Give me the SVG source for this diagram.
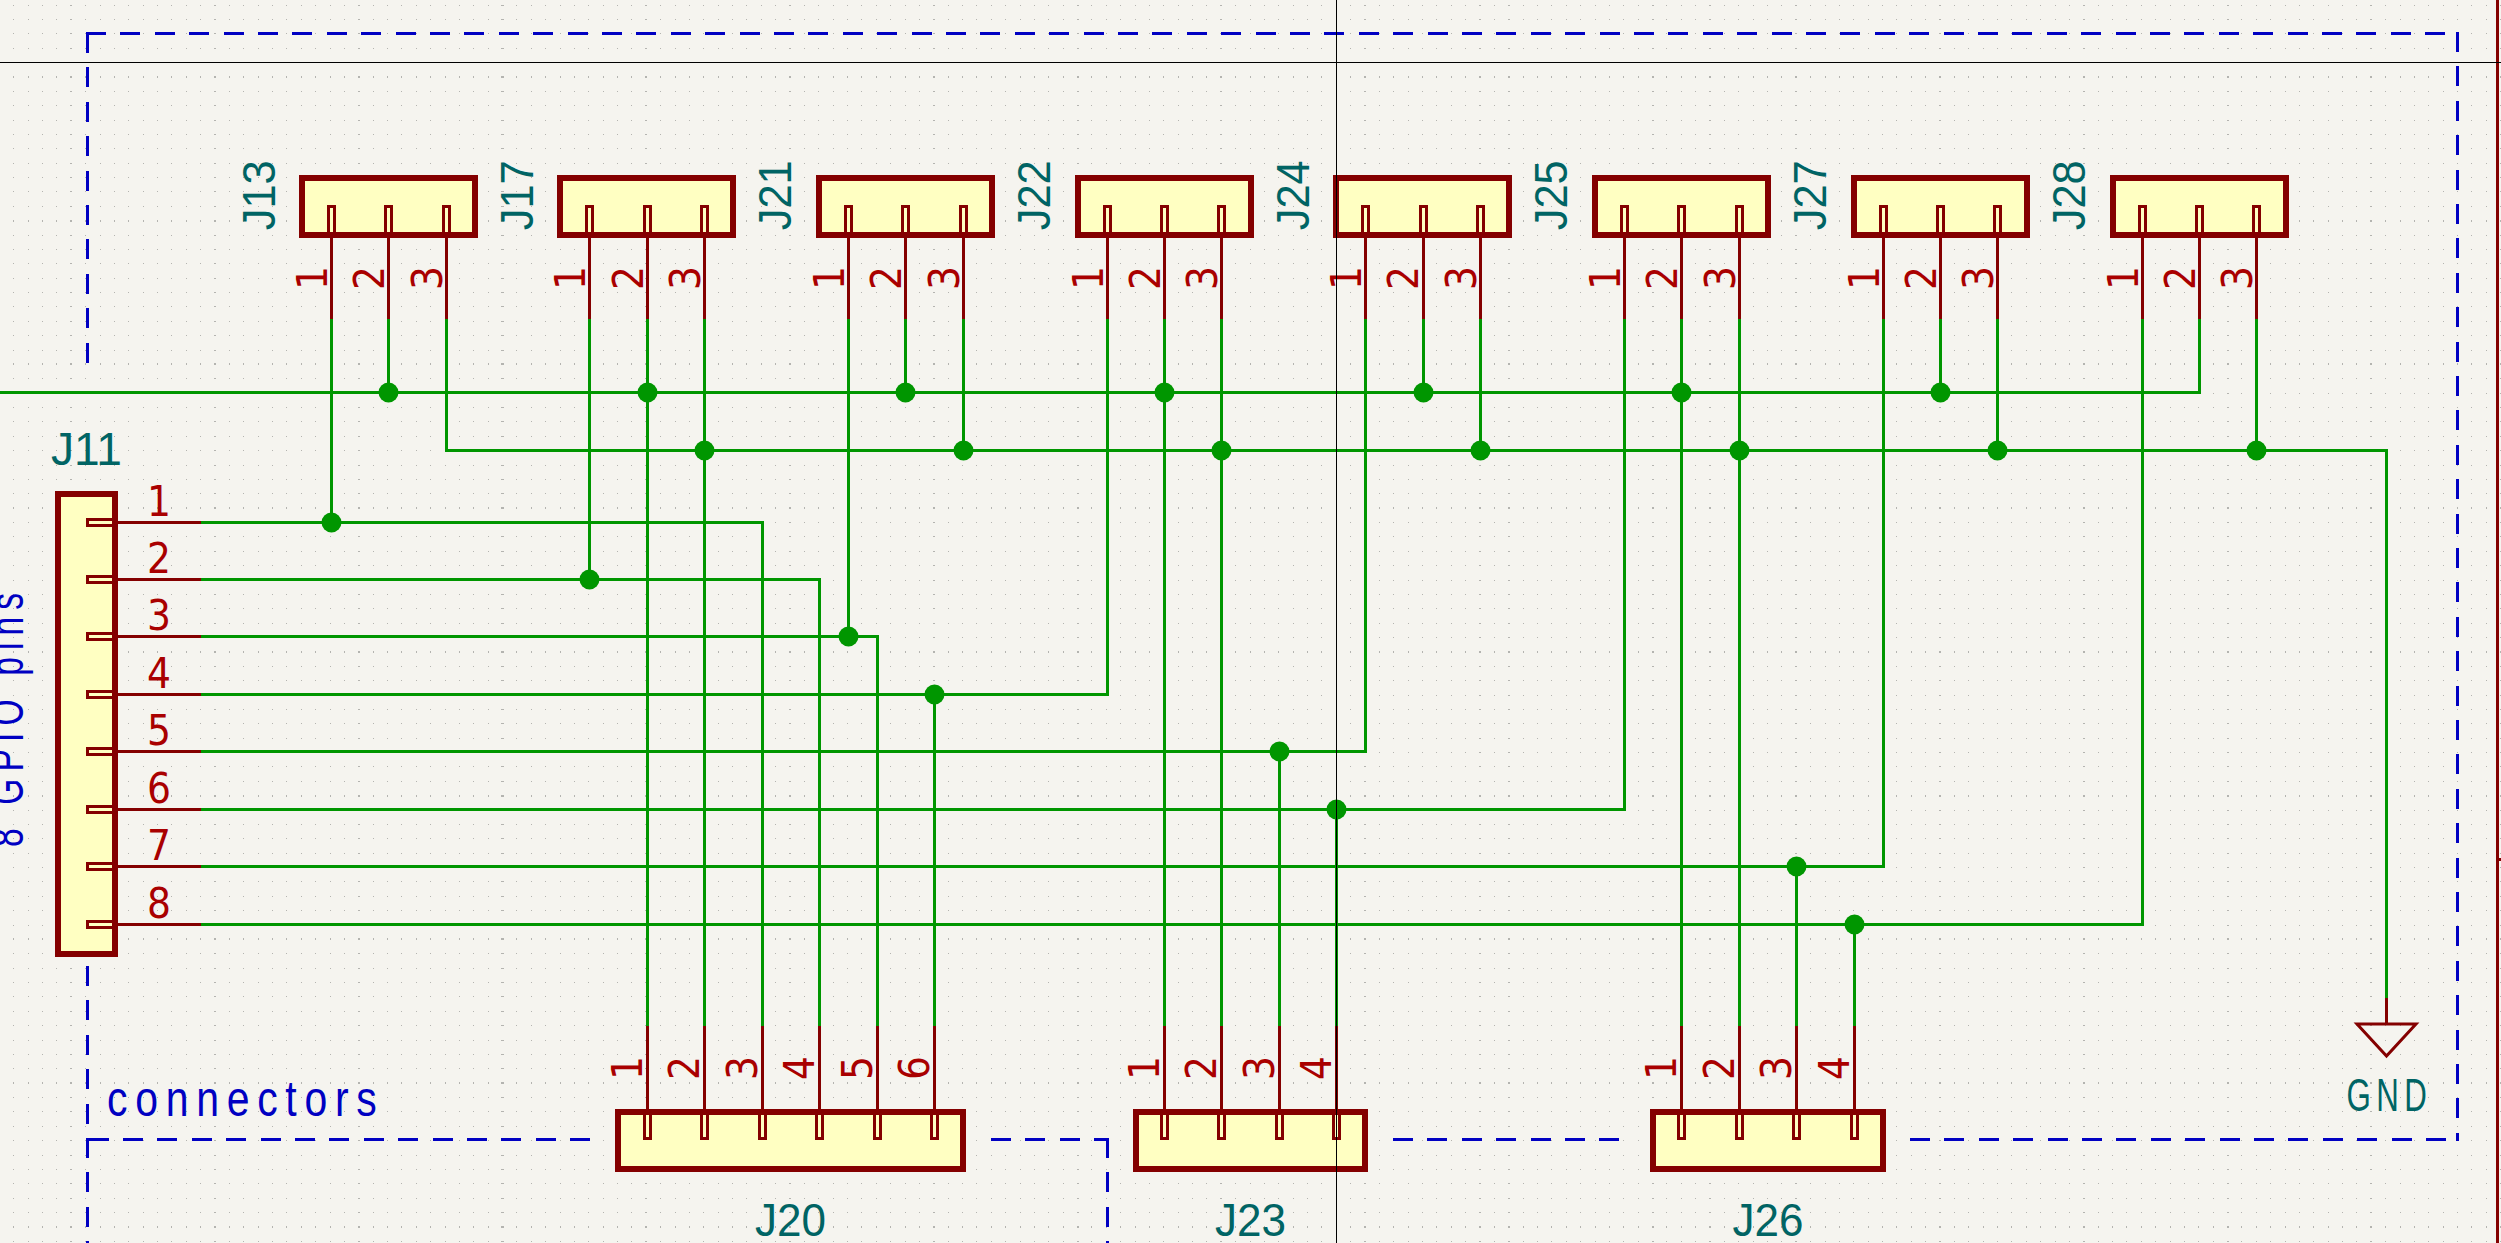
<svg xmlns="http://www.w3.org/2000/svg" xmlns:xlink="http://www.w3.org/1999/xlink" width="2501" height="1243" viewBox="0 0 2501 1243">
<style>
.bg{fill:#f5f4ef}
.grid{fill:none;stroke:#b4b4b0;shape-rendering:crispEdges}
.g1{stroke-width:1;stroke-dasharray:1 13.375}
.g2{stroke-width:2;stroke-dasharray:1 13.375}
.g3{stroke-width:1;stroke-dasharray:2 141.75;stroke-dashoffset:72.375}
.g4{stroke-width:2;stroke-dasharray:2 141.75;stroke-dashoffset:72.375}
.wire{fill:none;stroke:#009600;stroke-width:3;shape-rendering:crispEdges}
.dot{fill:#009600}
.box{fill:#ffffc2;stroke:#840000;stroke-width:6;stroke-linejoin:miter;shape-rendering:crispEdges}
.pin{fill:none;stroke:#840000;stroke-width:3;shape-rendering:crispEdges}
.pinbox{fill:none;stroke:#840000;stroke-width:2.6;shape-rendering:crispEdges}
.sym{fill:none;stroke:#840000;stroke-width:3;stroke-linejoin:miter}
.dash{fill:none;stroke:#0000c2;stroke-width:3;stroke-dasharray:20 14.4;shape-rendering:crispEdges}
.cross{fill:none;stroke:#000;stroke-width:1;shape-rendering:crispEdges}
text{font-family:"Liberation Sans",Arial,sans-serif;font-size:46px;text-anchor:middle}
.num{fill:#a90000;font-family:"DejaVu Sans","Liberation Sans",sans-serif;font-size:42px}
.ref{fill:#006464}
.note{fill:#0000c2;text-anchor:start}
</style>
<defs>
<path id="r" d="M-1.125 5H2501M-1.125 19.375H2501M-1.125 33.75H2501M-1.125 48.125H2501M-1.125 62.5H2501M-1.125 91.25H2501M-1.125 105.625H2501M-1.125 120H2501M-1.125 134.375H2501M-1.125 148.75H2501M-1.125 163.125H2501M-1.125 177.5H2501M-1.125 191.875H2501M-1.125 206.25H2501M-1.125 235H2501M-1.125 249.375H2501M-1.125 263.75H2501M-1.125 278.125H2501M-1.125 292.5H2501M-1.125 306.875H2501M-1.125 321.25H2501M-1.125 335.625H2501M-1.125 350H2501M-1.125 378.75H2501M-1.125 393.125H2501M-1.125 407.5H2501M-1.125 421.875H2501M-1.125 436.25H2501M-1.125 450.625H2501M-1.125 465H2501M-1.125 479.375H2501M-1.125 493.75H2501M-1.125 522.5H2501M-1.125 536.875H2501M-1.125 551.25H2501M-1.125 565.625H2501M-1.125 580H2501M-1.125 594.375H2501M-1.125 608.75H2501M-1.125 623.125H2501M-1.125 637.5H2501M-1.125 666.25H2501M-1.125 680.625H2501M-1.125 695H2501M-1.125 709.375H2501M-1.125 723.75H2501M-1.125 738.125H2501M-1.125 752.5H2501M-1.125 766.875H2501M-1.125 781.25H2501M-1.125 810H2501M-1.125 824.375H2501M-1.125 838.75H2501M-1.125 853.125H2501M-1.125 867.5H2501M-1.125 881.875H2501M-1.125 896.25H2501M-1.125 910.625H2501M-1.125 925H2501M-1.125 953.75H2501M-1.125 968.125H2501M-1.125 982.5H2501M-1.125 996.875H2501M-1.125 1011.25H2501M-1.125 1025.625H2501M-1.125 1040H2501M-1.125 1054.375H2501M-1.125 1068.75H2501M-1.125 1097.5H2501M-1.125 1111.875H2501M-1.125 1126.25H2501M-1.125 1140.625H2501M-1.125 1155H2501M-1.125 1169.375H2501M-1.125 1183.75H2501M-1.125 1198.125H2501M-1.125 1212.5H2501M-1.125 1241.25H2501"/>
<path id="m" d="M-1.125 76.875H2501M-1.125 220.625H2501M-1.125 364.375H2501M-1.125 508.125H2501M-1.125 651.875H2501M-1.125 795.625H2501M-1.125 939.375H2501M-1.125 1083.125H2501M-1.125 1226.875H2501"/>
</defs>
<rect class="bg" width="2501" height="1243"/>
<g id="grid">
<use href="#r" class="grid g1"/>
<use href="#m" class="grid g2"/>
<use href="#r" class="grid g3"/>
<use href="#m" class="grid g4"/>
</g>
<g id="page-border">
<path d="M2497.5 0V1243" fill="none" stroke="#840000" stroke-width="3" shape-rendering="crispEdges"/>
<path d="M2499 859H2501" fill="none" stroke="#840000" stroke-width="3" shape-rendering="crispEdges"/>
</g>
<g id="dashed-frame">
<path class="dash" d="M86 33.5H2457.5"/>
<path class="dash" d="M2457.5 32V1141"/>
<path class="dash" d="M87.5 33V366"/>
<path class="dash" d="M87.5 966V1139"/>
<path class="dash" d="M88.6 1139.5H594"/>
<path class="dash" d="M87.5 1138V1243"/>
<path class="dash" d="M991 1139.5H1109"/>
<path class="dash" d="M1107.5 1138V1243"/>
<path class="dash" d="M1393 1139.5H1620"/>
<path class="dash" d="M1910 1139.5H2449"/>
<text class="note" transform="translate(107 1115.5) scale(.82 1)" style="font-size:50px" textLength="329">connectors</text>
<text class="note" transform="translate(22.5 847) rotate(-90) scale(.7 1)" style="font-size:48px" textLength="363">8 GPIO pins</text>
</g>
<g id="connectors">
<path class="wire" d="M0 392.5H2199.5V319"/>
<path class="wire" d="M446.5 319V450.5H2386.5V998"/>
<path class="wire" d="M201 522.5H762.5V1026"/>
<path class="wire" d="M201 579.5H819.5V1026"/>
<path class="wire" d="M201 636.5H877.5V1026"/>
<path class="wire" d="M201 694.5H1107.5V319"/>
<path class="wire" d="M201 751.5H1365.5V319"/>
<path class="wire" d="M201 809.5H1624.5V319"/>
<path class="wire" d="M201 866.5H1883.5V319"/>
<path class="wire" d="M201 924.5H2142.5V319"/>
<path class="wire" d="M331.5 319V522.5M388.5 319V392.5M589.5 319V579.5M647.5 319V1026M704.5 319V1026M848.5 319V636.5M905.5 319V392.5M963.5 319V450.5M934.5 694.5V1026M1164.5 319V1026M1221.5 319V1026M1423.5 319V392.5M1480.5 319V450.5M1279.5 751.5V1026M1336.5 809.5V1026M1681.5 319V1026M1739.5 319V1026M1940.5 319V392.5M1997.5 319V450.5M1796.5 866.5V1026M1854.5 924.5V1026M2256.5 319V450.5"/>
<g class="dot">
<circle cx="388.5" cy="392.5" r="10"/><circle cx="647.5" cy="392.5" r="10"/><circle cx="905.5" cy="392.5" r="10"/><circle cx="1164.5" cy="392.5" r="10"/><circle cx="1423.5" cy="392.5" r="10"/><circle cx="1681.5" cy="392.5" r="10"/><circle cx="1940.5" cy="392.5" r="10"/>
<circle cx="704.5" cy="450.5" r="10"/><circle cx="963.5" cy="450.5" r="10"/><circle cx="1221.5" cy="450.5" r="10"/><circle cx="1480.5" cy="450.5" r="10"/><circle cx="1739.5" cy="450.5" r="10"/><circle cx="1997.5" cy="450.5" r="10"/><circle cx="2256.5" cy="450.5" r="10"/>
<circle cx="331.5" cy="522.5" r="10"/><circle cx="589.5" cy="579.5" r="10"/><circle cx="848.5" cy="636.5" r="10"/><circle cx="934.5" cy="694.5" r="10"/><circle cx="1279.5" cy="751.5" r="10"/><circle cx="1336.5" cy="809.5" r="10"/><circle cx="1796.5" cy="866.5" r="10"/><circle cx="1854.5" cy="924.5" r="10"/>
</g>
</g>
<g id="J11">
<rect class="box" x="58.2" y="493.8" width="57" height="459.7"/>
<path class="pin" d="M118 522.5H201M118 579.5H201M118 636.5H201M118 694.5H201M118 751.5H201M118 809.5H201M118 866.5H201M118 924.5H201"/>
<path class="pinbox" d="M115 519.5H87.3V525.5H115M115 576.5H87.3V582.5H115M115 633.5H87.3V639.5H115M115 691.5H87.3V697.5H115M115 748.5H87.3V754.5H115M115 806.5H87.3V812.5H115M115 863.5H87.3V869.5H115M115 921.5H87.3V927.5H115"/>
<text class="ref" x="86.5" y="465.4" textLength="71" lengthAdjust="spacingAndGlyphs">J11</text>
<text class="num" x="159" y="516" textLength="24" lengthAdjust="spacingAndGlyphs">1</text>
<text class="num" x="159" y="573" textLength="24" lengthAdjust="spacingAndGlyphs">2</text>
<text class="num" x="159" y="630" textLength="24" lengthAdjust="spacingAndGlyphs">3</text>
<text class="num" x="159" y="688" textLength="24" lengthAdjust="spacingAndGlyphs">4</text>
<text class="num" x="159" y="745" textLength="24" lengthAdjust="spacingAndGlyphs">5</text>
<text class="num" x="159" y="803" textLength="24" lengthAdjust="spacingAndGlyphs">6</text>
<text class="num" x="159" y="860" textLength="24" lengthAdjust="spacingAndGlyphs">7</text>
<text class="num" x="159" y="918" textLength="24" lengthAdjust="spacingAndGlyphs">8</text>
</g>
<g id="J13">
<rect class="box" x="302.2" y="178" width="172.6" height="57"/>
<path class="pin" d="M331.5 235V319M388.5 235V319M446.5 235V319"/>
<path class="pinbox" d="M328.5 233V206.5H334.5V233M385.5 233V206.5H391.5V233M443.5 233V206.5H449.5V233"/>
<text class="ref" transform="translate(274.5 195.3) rotate(-90)" textLength="70" lengthAdjust="spacingAndGlyphs">J13</text>
<text class="num" transform="translate(326.5 278) rotate(-90)" textLength="24" lengthAdjust="spacingAndGlyphs">1</text>
<text class="num" transform="translate(383.5 278) rotate(-90)" textLength="24" lengthAdjust="spacingAndGlyphs">2</text>
<text class="num" transform="translate(441.5 278) rotate(-90)" textLength="24" lengthAdjust="spacingAndGlyphs">3</text>
</g>
<g id="J17">
<rect class="box" x="560.2" y="178" width="172.6" height="57"/>
<path class="pin" d="M589.5 235V319M647.5 235V319M704.5 235V319"/>
<path class="pinbox" d="M586.5 233V206.5H592.5V233M644.5 233V206.5H650.5V233M701.5 233V206.5H707.5V233"/>
<text class="ref" transform="translate(533 195.3) rotate(-90)" textLength="70" lengthAdjust="spacingAndGlyphs">J17</text>
<text class="num" transform="translate(584.5 278) rotate(-90)" textLength="24" lengthAdjust="spacingAndGlyphs">1</text>
<text class="num" transform="translate(642.5 278) rotate(-90)" textLength="24" lengthAdjust="spacingAndGlyphs">2</text>
<text class="num" transform="translate(699.5 278) rotate(-90)" textLength="24" lengthAdjust="spacingAndGlyphs">3</text>
</g>
<g id="J21">
<rect class="box" x="819.2" y="178" width="172.6" height="57"/>
<path class="pin" d="M848.5 235V319M905.5 235V319M963.5 235V319"/>
<path class="pinbox" d="M845.5 233V206.5H851.5V233M902.5 233V206.5H908.5V233M960.5 233V206.5H966.5V233"/>
<text class="ref" transform="translate(791 195.3) rotate(-90)" textLength="70" lengthAdjust="spacingAndGlyphs">J21</text>
<text class="num" transform="translate(843.5 278) rotate(-90)" textLength="24" lengthAdjust="spacingAndGlyphs">1</text>
<text class="num" transform="translate(900.5 278) rotate(-90)" textLength="24" lengthAdjust="spacingAndGlyphs">2</text>
<text class="num" transform="translate(958.5 278) rotate(-90)" textLength="24" lengthAdjust="spacingAndGlyphs">3</text>
</g>
<g id="J22">
<rect class="box" x="1078" y="178" width="172.6" height="57"/>
<path class="pin" d="M1107.5 235V319M1164.5 235V319M1221.5 235V319"/>
<path class="pinbox" d="M1104.5 233V206.5H1110.5V233M1161.5 233V206.5H1167.5V233M1218.5 233V206.5H1224.5V233"/>
<text class="ref" transform="translate(1050 195.3) rotate(-90)" textLength="70" lengthAdjust="spacingAndGlyphs">J22</text>
<text class="num" transform="translate(1102.5 278) rotate(-90)" textLength="24" lengthAdjust="spacingAndGlyphs">1</text>
<text class="num" transform="translate(1159.5 278) rotate(-90)" textLength="24" lengthAdjust="spacingAndGlyphs">2</text>
<text class="num" transform="translate(1216.5 278) rotate(-90)" textLength="24" lengthAdjust="spacingAndGlyphs">3</text>
</g>
<g id="J24">
<rect class="box" x="1336.2" y="178" width="172.6" height="57"/>
<path class="pin" d="M1365.5 235V319M1423.5 235V319M1480.5 235V319"/>
<path class="pinbox" d="M1362.5 233V206.5H1368.5V233M1420.5 233V206.5H1426.5V233M1477.5 233V206.5H1483.5V233"/>
<text class="ref" transform="translate(1308.5 195.3) rotate(-90)" textLength="70" lengthAdjust="spacingAndGlyphs">J24</text>
<text class="num" transform="translate(1360.5 278) rotate(-90)" textLength="24" lengthAdjust="spacingAndGlyphs">1</text>
<text class="num" transform="translate(1418 278) rotate(-90)" textLength="24" lengthAdjust="spacingAndGlyphs">2</text>
<text class="num" transform="translate(1475.5 278) rotate(-90)" textLength="24" lengthAdjust="spacingAndGlyphs">3</text>
</g>
<g id="J25">
<rect class="box" x="1595.2" y="178" width="172.6" height="57"/>
<path class="pin" d="M1624.5 235V319M1681.5 235V319M1739.5 235V319"/>
<path class="pinbox" d="M1621.5 233V206.5H1627.5V233M1678.5 233V206.5H1684.5V233M1736.5 233V206.5H1742.5V233"/>
<text class="ref" transform="translate(1567 195.3) rotate(-90)" textLength="70" lengthAdjust="spacingAndGlyphs">J25</text>
<text class="num" transform="translate(1619.5 278) rotate(-90)" textLength="24" lengthAdjust="spacingAndGlyphs">1</text>
<text class="num" transform="translate(1676.5 278) rotate(-90)" textLength="24" lengthAdjust="spacingAndGlyphs">2</text>
<text class="num" transform="translate(1734.5 278) rotate(-90)" textLength="24" lengthAdjust="spacingAndGlyphs">3</text>
</g>
<g id="J27">
<rect class="box" x="1854" y="178" width="172.6" height="57"/>
<path class="pin" d="M1883.5 235V319M1940.5 235V319M1997.5 235V319"/>
<path class="pinbox" d="M1880.5 233V206.5H1886.5V233M1937.5 233V206.5H1943.5V233M1994.5 233V206.5H2000.5V233"/>
<text class="ref" transform="translate(1825.5 195.3) rotate(-90)" textLength="70" lengthAdjust="spacingAndGlyphs">J27</text>
<text class="num" transform="translate(1878.5 278) rotate(-90)" textLength="24" lengthAdjust="spacingAndGlyphs">1</text>
<text class="num" transform="translate(1935.5 278) rotate(-90)" textLength="24" lengthAdjust="spacingAndGlyphs">2</text>
<text class="num" transform="translate(1992.5 278) rotate(-90)" textLength="24" lengthAdjust="spacingAndGlyphs">3</text>
</g>
<g id="J28">
<rect class="box" x="2113" y="178" width="172.6" height="57"/>
<path class="pin" d="M2142.5 235V319M2199.5 235V319M2256.5 235V319"/>
<path class="pinbox" d="M2139.5 233V206.5H2145.5V233M2196.5 233V206.5H2202.5V233M2253.5 233V206.5H2259.5V233"/>
<text class="ref" transform="translate(2085 195.3) rotate(-90)" textLength="70" lengthAdjust="spacingAndGlyphs">J28</text>
<text class="num" transform="translate(2137.5 278) rotate(-90)" textLength="24" lengthAdjust="spacingAndGlyphs">1</text>
<text class="num" transform="translate(2194.5 278) rotate(-90)" textLength="24" lengthAdjust="spacingAndGlyphs">2</text>
<text class="num" transform="translate(2251.5 278) rotate(-90)" textLength="24" lengthAdjust="spacingAndGlyphs">3</text>
</g>
<g id="J20">
<rect class="box" x="618.3" y="1112.4" width="344.4" height="56.4"/>
<path class="pin" d="M647.5 1026V1112M704.5 1026V1112M762.5 1026V1112M819.5 1026V1112M877.5 1026V1112M934.5 1026V1112"/>
<path class="pinbox" d="M644.5 1114V1138.7H650.5V1114M701.5 1114V1138.7H707.5V1114M759.5 1114V1138.7H765.5V1114M816.5 1114V1138.7H822.5V1114M874.5 1114V1138.7H880.5V1114M931.5 1114V1138.7H937.5V1114"/>
<text class="ref" x="790.5" y="1236" textLength="71" lengthAdjust="spacingAndGlyphs">J20</text>
<text class="num" transform="translate(641.5 1068) rotate(-90)" textLength="24" lengthAdjust="spacingAndGlyphs">1</text>
<text class="num" transform="translate(698.5 1068) rotate(-90)" textLength="24" lengthAdjust="spacingAndGlyphs">2</text>
<text class="num" transform="translate(756.5 1068) rotate(-90)" textLength="24" lengthAdjust="spacingAndGlyphs">3</text>
<text class="num" transform="translate(813.5 1068) rotate(-90)" textLength="24" lengthAdjust="spacingAndGlyphs">4</text>
<text class="num" transform="translate(871.5 1068) rotate(-90)" textLength="24" lengthAdjust="spacingAndGlyphs">5</text>
<text class="num" transform="translate(928.5 1068) rotate(-90)" textLength="24" lengthAdjust="spacingAndGlyphs">6</text>
</g>
<g id="J23">
<rect class="box" x="1135.5" y="1112.4" width="229.6" height="56.4"/>
<path class="pin" d="M1164.5 1026V1112M1221.5 1026V1112M1279.5 1026V1112M1336.5 1026V1112"/>
<path class="pinbox" d="M1161.5 1114V1138.7H1167.5V1114M1218.5 1114V1138.7H1224.5V1114M1276.5 1114V1138.7H1282.5V1114M1333.5 1114V1138.7H1339.5V1114"/>
<text class="ref" x="1250.5" y="1236" textLength="71" lengthAdjust="spacingAndGlyphs">J23</text>
<text class="num" transform="translate(1159 1068) rotate(-90)" textLength="24" lengthAdjust="spacingAndGlyphs">1</text>
<text class="num" transform="translate(1216 1068) rotate(-90)" textLength="24" lengthAdjust="spacingAndGlyphs">2</text>
<text class="num" transform="translate(1274 1068) rotate(-90)" textLength="24" lengthAdjust="spacingAndGlyphs">3</text>
<text class="num" transform="translate(1331 1068) rotate(-90)" textLength="24" lengthAdjust="spacingAndGlyphs">4</text>
</g>
<g id="J26">
<rect class="box" x="1653" y="1112.4" width="229.6" height="56.4"/>
<path class="pin" d="M1681.5 1026V1112M1739.5 1026V1112M1796.5 1026V1112M1854.5 1026V1112"/>
<path class="pinbox" d="M1678.5 1114V1138.7H1684.5V1114M1736.5 1114V1138.7H1742.5V1114M1793.5 1114V1138.7H1799.5V1114M1851.5 1114V1138.7H1857.5V1114"/>
<text class="ref" x="1768" y="1236" textLength="71" lengthAdjust="spacingAndGlyphs">J26</text>
<text class="num" transform="translate(1676 1068) rotate(-90)" textLength="24" lengthAdjust="spacingAndGlyphs">1</text>
<text class="num" transform="translate(1734 1068) rotate(-90)" textLength="24" lengthAdjust="spacingAndGlyphs">2</text>
<text class="num" transform="translate(1791 1068) rotate(-90)" textLength="24" lengthAdjust="spacingAndGlyphs">3</text>
<text class="num" transform="translate(1849 1068) rotate(-90)" textLength="24" lengthAdjust="spacingAndGlyphs">4</text>
</g>
<g id="GND">
<path class="sym" d="M2386.5 998V1024"/>
<path class="sym" d="M2357 1024H2416L2386.5 1056Z"/>
<text class="ref" transform="translate(2386.7 1110.7) scale(.68 1)" textLength="118">GND</text>
</g>
<g id="crosshair">
<path class="cross" d="M0 62.5H2501M1336.5 0V1243"/>
</g>
</svg>
